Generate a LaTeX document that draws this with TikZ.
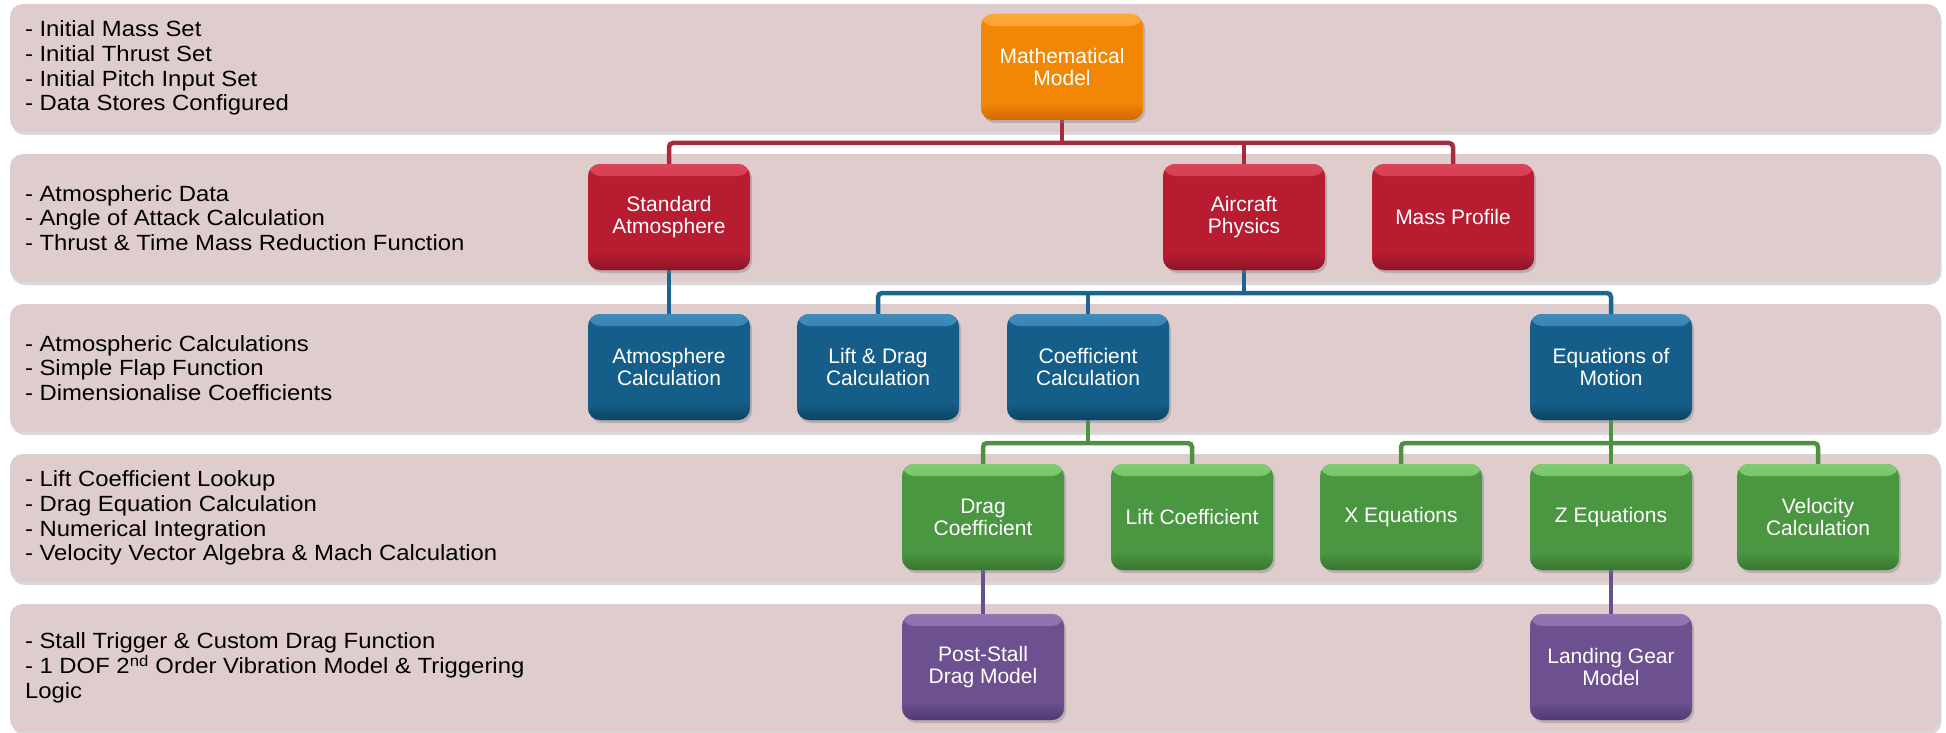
\documentclass[tikz,border=0pt]{standalone}
\usepackage{fontspec}
\setmainfont{Liberation Sans}
\newfontfamily\notefont[FakeStretch=1.085]{Liberation Sans}
\usetikzlibrary{shadows}

\definecolor{bandfill}{HTML}{DFCDCE}
\definecolor{orMain}{HTML}{F28705}
\definecolor{orTop}{HTML}{FFA63A}
\definecolor{orBot}{HTML}{D26800}
\definecolor{rdMain}{HTML}{B71C31}
\definecolor{rdTop}{HTML}{DB4559}
\definecolor{rdBot}{HTML}{8E1427}
\definecolor{blMain}{HTML}{155E89}
\definecolor{blTop}{HTML}{3F8BBB}
\definecolor{blBot}{HTML}{0C4464}
\definecolor{grMain}{HTML}{4A9641}
\definecolor{grTop}{HTML}{80CC70}
\definecolor{grBot}{HTML}{387530}
\definecolor{puMain}{HTML}{6C5090}
\definecolor{puTop}{HTML}{9276B4}
\definecolor{puBot}{HTML}{523A70}
\definecolor{rdLine}{HTML}{A72B3E}
\definecolor{blLine}{HTML}{1C6591}
\definecolor{grLine}{HTML}{4F9142}
\definecolor{puLine}{HTML}{67508C}

\pgfdeclarelayer{bands}
\pgfdeclarelayer{lines}
\pgfsetlayers{bands,lines,main}

\begin{document}
\begin{tikzpicture}[x=1pt,y=-1pt,
  band/.style={fill=bandfill, rounded corners=13pt, minimum width=1930pt,
    minimum height=128pt, inner sep=0pt,
    drop shadow={shadow xshift=1.5pt, shadow yshift=-3pt, opacity=0.3}},
  note/.style={anchor=west, align=left, inner sep=0pt, text=black,
    font=\notefont\fontsize{22}{24.8}\selectfont},
  tile/.style n args={3}{fill=#1, rounded corners=12pt,
    minimum width=162pt, minimum height=106pt, inner sep=2pt,
    text=white, align=center, font=\fontsize{21}{22}\selectfont,
    drop shadow={shadow xshift=2pt, shadow yshift=-3pt, opacity=0.4},
    path picture={
      \shade[top color=#2, bottom color=#1]
        (path picture bounding box.north west)
        rectangle ([yshift=-12pt]path picture bounding box.north east);
      \shade[top color=#1, bottom color=#3]
        ([yshift=18pt]path picture bounding box.south west)
        rectangle (path picture bounding box.south east);
    }},
  orangetile/.style={tile={orMain}{orTop}{orBot}},
  redtile/.style={tile={rdMain}{rdTop}{rdBot}},
  bluetile/.style={tile={blMain}{blTop}{blBot}},
  greentile/.style={tile={grMain}{grTop}{grBot}},
  purpletile/.style={tile={puMain}{puTop}{puBot}},
  link/.style={line width=4.5pt, rounded corners=4pt}
]
\useasboundingbox (0,0) rectangle (1946,733);

% horizontal tiers with their descriptions
\begin{pgfonlayer}{bands}
  \node[band] (band1) at (975,68) {};
  \node[band] (band2) at (975,218) {};
  \node[band] (band3) at (975,368) {};
  \node[band] (band4) at (975,518) {};
  \node[band] (band5) at (975,668) {};
\end{pgfonlayer}

\node[note] (note1) at ([xshift=15pt]band1.west) {- Initial Mass Set\\- Initial Thrust Set\\- Initial Pitch Input Set\\- Data Stores Configured};
\node[note] (note2) at ([xshift=15pt]band2.west) {- Atmospheric Data\\- Angle of Attack Calculation\\- Thrust \& Time Mass Reduction Function};
\node[note] (note3) at ([xshift=15pt]band3.west) {- Atmospheric Calculations\\- Simple Flap Function\\- Dimensionalise Coefficients};
\node[note] (note4) at ([xshift=15pt]band4.west) {- Lift Coefficient Lookup\\- Drag Equation Calculation\\- Numerical Integration\\- Velocity Vector Algebra \& Mach Calculation};
\node[note] (note5) at ([xshift=15pt]band5.west) {- Stall Trigger \& Custom Drag Function\\- 1 DOF 2\textsuperscript{nd} Order Vibration Model \& Triggering\\Logic};

% model blocks
\node[orangetile] (math) at (1062,67) {Mathematical\\Model};

\node[redtile] (stdatm)   at (669,217)  {Standard\\Atmosphere};
\node[redtile] (aircraft) at (1244,217) {Aircraft\\Physics};
\node[redtile] (mass)     at (1453,217) {Mass Profile};

\node[bluetile] (atmcalc)   at (669,367)  {Atmosphere\\Calculation};
\node[bluetile] (liftdrag)  at (878,367)  {Lift \& Drag\\Calculation};
\node[bluetile] (coeffcalc) at (1088,367) {Coefficient\\Calculation};
\node[bluetile] (eom)       at (1611,367) {Equations of\\Motion};

\node[greentile] (dragcoef) at (983,517)  {Drag\\Coefficient};
\node[greentile] (liftcoef) at (1192,517) {Lift Coefficient};
\node[greentile] (xeq)      at (1401,517) {X Equations};
\node[greentile] (zeq)      at (1611,517) {Z Equations};
\node[greentile] (velcalc)  at (1818,517) {Velocity\\Calculation};

\node[purpletile] (poststall) at (983,667)  {Post-Stall\\Drag Model};
\node[purpletile] (landing)   at (1611,667) {Landing Gear\\Model};

% bus heights between tiers
\coordinate (bus1) at (0,143);
\coordinate (bus2) at (0,293);
\coordinate (bus3) at (0,443);

\begin{pgfonlayer}{lines}
  \draw[link, rdLine] (math.south) -- (math.south |- bus1);
  \draw[link, rdLine] (stdatm.north) |- (mass.north |- bus1) -- (mass.north);
  \draw[link, rdLine] (aircraft.north) -- (aircraft.north |- bus1);

  \draw[link, blLine] (stdatm.south) -- (atmcalc.north);
  \draw[link, blLine] (aircraft.south) -- (aircraft.south |- bus2);
  \draw[link, blLine] (liftdrag.north) |- (eom.north |- bus2) -- (eom.north);
  \draw[link, blLine] (coeffcalc.north) -- (coeffcalc.north |- bus2);

  \draw[link, grLine] (coeffcalc.south) -- (coeffcalc.south |- bus3);
  \draw[link, grLine] (dragcoef.north) |- (liftcoef.north |- bus3) -- (liftcoef.north);
  \draw[link, grLine] (eom.south) -- (eom.south |- bus3);
  \draw[link, grLine] (xeq.north) |- (velcalc.north |- bus3) -- (velcalc.north);
  \draw[link, grLine] (zeq.north) -- (zeq.north |- bus3);

  \draw[link, puLine] (dragcoef.south) -- (poststall.north);
  \draw[link, puLine] (zeq.south) -- (landing.north);
\end{pgfonlayer}
\end{tikzpicture}
\end{document}
